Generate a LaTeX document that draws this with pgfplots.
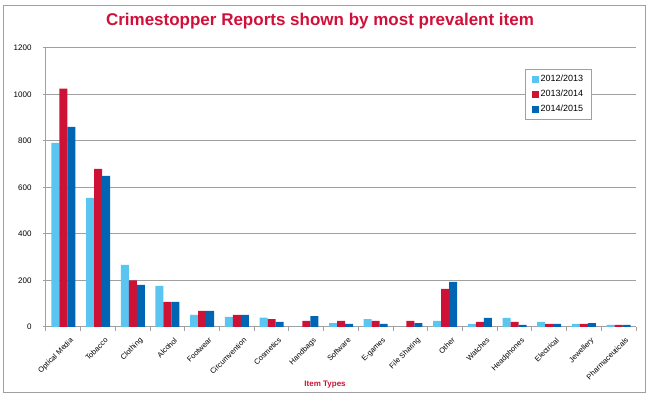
\documentclass[border=0pt]{standalone}
\usepackage{pgfplots}
\pgfplotsset{compat=1.18}
\usepackage{fontspec}
\setmainfont{Liberation Sans}
\definecolor{cLight}{HTML}{5BC5F2}
\definecolor{cRed}{HTML}{CE1235}
\definecolor{cBlue}{HTML}{0066B3}
\definecolor{cGrid}{HTML}{A0A0A0}
\definecolor{cTitle}{HTML}{D0103A}
\begin{document}
\begin{tikzpicture}
\useasboundingbox (0,0) rectangle (653pt,398pt);
\draw[cGrid, line width=1pt] (3pt,5pt) rectangle (645pt,392pt);
\node[font=\bfseries\fontsize{17}{20}\selectfont, text=cTitle] at (320pt,377pt) {Crimestopper Reports shown by most prevalent item};
\begin{axis}[
  at={(46pt,71pt)}, anchor=south west,
  scale only axis, width=590pt, height=279pt,
  ymin=0, ymax=1200, ytick={0,200,...,1200},
  xmin=-0.5, xmax=16.5,
  xtick={0,...,16},
  xticklabels={Optical Media,Tobacco,Clothing,Alcohol,Footwear,Circumvention,Cosmetics,Handbags,Software,E-games,File Sharing,Other,Watches,Headphones,Electrical,Jewellery,Pharmaceuticals},
  minor xtick={-0.5,0.5,...,16.5},
  major x tick style={draw=none},
  minor tick length=4pt,
  tick align=outside,
  ytick style={cGrid, line width=1pt},
  major tick length=3pt,
  xtick style={cGrid, line width=1pt},
  axis x line*=bottom, axis y line*=left,
  axis line style={cGrid, line width=1pt, -},
  ymajorgrids, grid style={cGrid, line width=1pt},
  /pgf/number format/assume math mode=true,
  /pgf/number format/1000 sep={},
  yticklabel style={font=\fontsize{8}{9}\selectfont, xshift=-8pt},
  xticklabel style={font=\fontsize{7.5}{8}\selectfont, rotate=45, anchor=north east, xshift=3pt, yshift=-6pt},
  xlabel={Item Types},
  xlabel style={at={(axis description cs:0.473,-0.208)}, anchor=center, font=\bfseries\fontsize{8}{9}\selectfont, text=cRed},
  ybar=0pt, bar width=8pt,
  legend style={at={(0.812,0.925)}, anchor=north west, draw=cGrid, line width=1pt, font=\fontsize{9}{10}\selectfont, inner xsep=6pt, inner ysep=4pt, row sep=3pt, cells={anchor=west}},
  legend image code/.code={\fill[#1, draw=none] (0pt,-3.5pt) rectangle (7pt,3.5pt);},
]
\addplot[fill=cLight, draw=none] coordinates {(0,792) (1,555) (2,267) (3,177) (4,52) (5,43) (6,40) (7,0) (8,17) (9,34) (10,0) (11,26) (12,13) (13,39) (14,22) (15,13) (16,9)};
\addplot[fill=cRed, draw=none] coordinates {(0,1025) (1,680) (2,200) (3,108) (4,69) (5,52) (6,34) (7,26) (8,26) (9,26) (10,26) (11,164) (12,22) (13,22) (14,13) (15,13) (16,9)};
\addplot[fill=cBlue, draw=none] coordinates {(0,861) (1,650) (2,181) (3,108) (4,69) (5,52) (6,22) (7,47) (8,13) (9,13) (10,17) (11,194) (12,39) (13,9) (14,13) (15,17) (16,9)};
\legend{2012/2013,2013/2014,2014/2015}
\end{axis}
\end{tikzpicture}
\end{document}
